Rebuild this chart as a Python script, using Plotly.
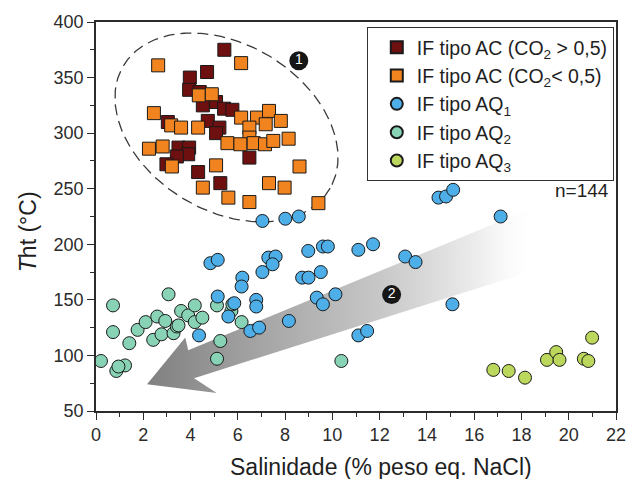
import numpy as np
import plotly.graph_objects as go

# ---------------- data ----------------
ac_high_x = [5.43, 4.70, 3.97, 3.94, 4.39, 4.52, 5.08, 5.42, 5.77, 3.04, 4.73, 5.22, 5.08,
             3.49, 3.94, 3.90, 3.42, 2.98, 6.49, 4.32, 5.26]
ac_high_y = [375, 355, 350, 339, 337, 325, 328, 322, 321, 310, 311, 305, 300,
             287, 287, 281, 279, 272, 278, 265, 255]

ac_low_x = [2.63, 6.14, 4.35, 4.90, 2.45, 6.14, 6.81, 7.32, 7.18, 7.82, 3.18, 3.60, 4.32,
            6.49, 6.49, 5.56, 6.11, 6.67, 7.15, 7.50, 8.15, 2.24, 2.82, 3.21, 5.08, 8.61,
            4.52, 7.32, 7.98, 5.60, 6.49, 9.41]
ac_low_y = [361, 363, 334, 335, 318, 314, 314, 320, 308, 311, 307, 305, 305,
            305, 296, 291, 290, 291, 290, 293, 295, 286, 288, 270, 271, 270,
            251, 255, 251, 242, 238, 237]

aq1_x = [7.04, 8.01, 8.58, 4.84, 5.15, 6.19, 6.16, 7.04, 7.29, 7.60, 7.47, 8.98, 9.60,
         9.81, 11.10, 11.72, 13.08, 13.52, 8.72, 8.99, 9.51, 5.15, 5.85, 5.60, 6.78,
         6.78, 6.53, 6.90, 8.16, 4.36, 9.34, 9.60, 10.13, 11.10, 11.47, 15.08, 14.49,
         14.81, 15.11, 17.12]
aq1_y = [221, 223, 225, 183, 186, 170, 162, 175, 188, 189, 182, 194, 198,
         198, 195, 200, 189, 184, 170, 170, 175, 153, 147, 135, 150,
         144, 122, 125, 131, 118, 152, 146, 155, 118, 122, 146, 242,
         243, 249, 225]

aq2_x = [0.72, 3.07, 0.72, 1.41, 1.76, 2.10, 2.59, 2.93, 2.42, 2.77, 3.28, 3.42, 3.60,
         3.90, 4.18, 4.18, 4.50, 5.12, 5.73, 5.77, 6.16, 5.26, 5.12, 0.21, 0.86, 1.23,
         0.95, 10.38, 3.49]
aq2_y = [145, 155, 121, 111, 123, 130, 135, 131, 114, 119, 120, 126, 140,
         136, 145, 130, 134, 145, 140, 146, 130, 113, 97, 95, 86, 91,
         90, 95, 127]

aq3_x = [16.81, 17.46, 18.15, 19.08, 19.47, 19.61, 20.64, 20.83, 20.99]
aq3_y = [87, 86, 80, 96, 103, 96, 97, 95, 116]

series_names = ["IF tipo AC (CO<sub>2</sub> > 0,5)", "IF tipo AC (CO<sub>2</sub>< 0,5)",
                "IF tipo AQ<sub>1</sub>", "IF tipo AQ<sub>2</sub>", "IF tipo AQ<sub>3</sub>"]
x_ticks = list(range(0, 23, 2))
y_ticks = list(range(50, 401, 50))

# ---------------- layout geometry ----------------
W, H = 638, 479
L, R, T, B = 96, 626, 20, 411
X0, X1, Y0, Y1 = 0, 22, 50, 400


def px2data(px, py):
    px = np.asarray(px, dtype=float)
    py = np.asarray(py, dtype=float)
    return (X0 + (px - L) / (R - L) * (X1 - X0),
            Y1 - (py - T) / (B - T) * (Y1 - Y0))


fig = go.Figure()

# big gradient arrow (decoration, in pixel units then mapped)
arrow_px = [548, 190, 187, 148, 219, 196, 548, 548]
arrow_py = [204, 350, 337, 384, 393, 378, 268, 204]
ax_, ay_ = px2data(arrow_px, arrow_py)
fig.add_trace(go.Scatter(
    x=ax_, y=ay_, mode="lines", fill="toself", line=dict(width=0, color="rgba(0,0,0,0)"),
    fillgradient=dict(type="horizontal",
                      colorscale=[[0, "rgb(128,128,128)"], [0.25, "rgb(160,160,160)"],
                                  [0.6, "rgb(200,200,200)"], [0.85, "rgb(238,238,238)"],
                                  [1, "rgba(255,255,255,0)"]]),
    hoverinfo="skip", showlegend=False))

# dashed ellipse
t = np.linspace(0, 2 * np.pi, 240)
cx, cy, a, b, th = 229, 126, 122, 84, np.deg2rad(30)
ex = cx + a * np.cos(th) * np.cos(t) - b * np.sin(th) * np.sin(t)
ey = cy + a * np.sin(th) * np.cos(t) + b * np.cos(th) * np.sin(t)
exd, eyd = px2data(ex, ey)
fig.add_trace(go.Scatter(x=exd, y=eyd, mode="lines",
                         line=dict(color="#3a3a3a", width=1.3, dash="11px,6px"),
                         hoverinfo="skip", showlegend=False))

edge = dict(color="#1a1a1a", width=1)
specs = [
    (ac_high_x, ac_high_y, "square", "#6e0f10", series_names[0]),
    (ac_low_x, ac_low_y, "square", "#f2841f", series_names[1]),
    (aq2_x, aq2_y, "circle", "#88d2b6", series_names[3]),
    (aq1_x, aq1_y, "circle", "#4daee8", series_names[2]),
    (aq3_x, aq3_y, "circle", "#bcd85c", series_names[4]),
]
rank = {series_names[i]: i for i in range(5)}
for xs, ys, sym, col, name in specs:
    fig.add_trace(go.Scatter(
        x=xs, y=ys, mode="markers", name=name, legendrank=rank[name] + 1,
        legendgroup=name,
        marker=dict(symbol=sym, size=13, color=col, line=edge)))

font = "Liberation Sans, Arial, sans-serif"

# numbered black circles
num_x, num_y = px2data([302.7, 397.3], [59, 294])
fig.add_trace(go.Scatter(
    x=num_x, y=num_y, mode="markers+text", text=["1", "2"],
    textposition="middle center",
    textfont=dict(color="white", size=14, family=font),
    marker=dict(size=19, color="#161616"), hoverinfo="skip", showlegend=False))

axis_common = dict(showline=True, linecolor="#2b2b2b", linewidth=1.6, mirror=True,
                   ticks="outside", ticklen=7, tickwidth=1.3, tickcolor="#2b2b2b",
                   showgrid=False, zeroline=False,
                   tickfont=dict(size=18, color="#2b2b2b", family=font))
fig.update_layout(
    width=W, height=H,
    margin=dict(l=L, r=W - R, t=T, b=H - B),
    plot_bgcolor="white", paper_bgcolor="white",
    font=dict(family=font, color="#1f1f1f"),
    xaxis=dict(range=[X0, X1], tickvals=x_ticks,
               minor=dict(dtick=1, ticks="outside", ticklen=4, tickwidth=1.3, tickcolor="#2b2b2b"),
               **axis_common),
    yaxis=dict(range=[Y0, Y1], tickvals=y_ticks,
               minor=dict(dtick=25, ticks="outside", ticklen=4, tickwidth=1.3, tickcolor="#2b2b2b"),
               **axis_common),
    legend=dict(x=(372 - L) / (R - L), y=1 - (25 - T) / (B - T), xanchor="left", yanchor="top",
                bordercolor="#333333", borderwidth=1, bgcolor="white",
                font=dict(size=19.5, family=font, color="#1f1f1f"),
                tracegroupgap=0, itemsizing="constant", indentation=9),
    annotations=[
        dict(text="Salinidade (% peso eq. NaCl)", xref="paper", yref="paper",
             x=(386 - L) / (R - L), y=(B - 467) / (B - T), xanchor="center", yanchor="middle",
             showarrow=False, font=dict(size=23, family=font, color="#1f1f1f")),
        dict(text="<i>T</i>ht (°C)", xref="paper", yref="paper", textangle=-90,
             x=(27 - L) / (R - L), y=(B - 231) / (B - T), xanchor="center", yanchor="middle",
             showarrow=False, font=dict(size=23, family=font, color="#1f1f1f")),
        dict(text="n=144", xref="paper", yref="y", x=(621 - L) / (R - L), y=248,
             xanchor="right", yanchor="middle", showarrow=False,
             font=dict(size=19, family=font, color="#1f1f1f")),
    ],
)

fig.write_html("out.html")
